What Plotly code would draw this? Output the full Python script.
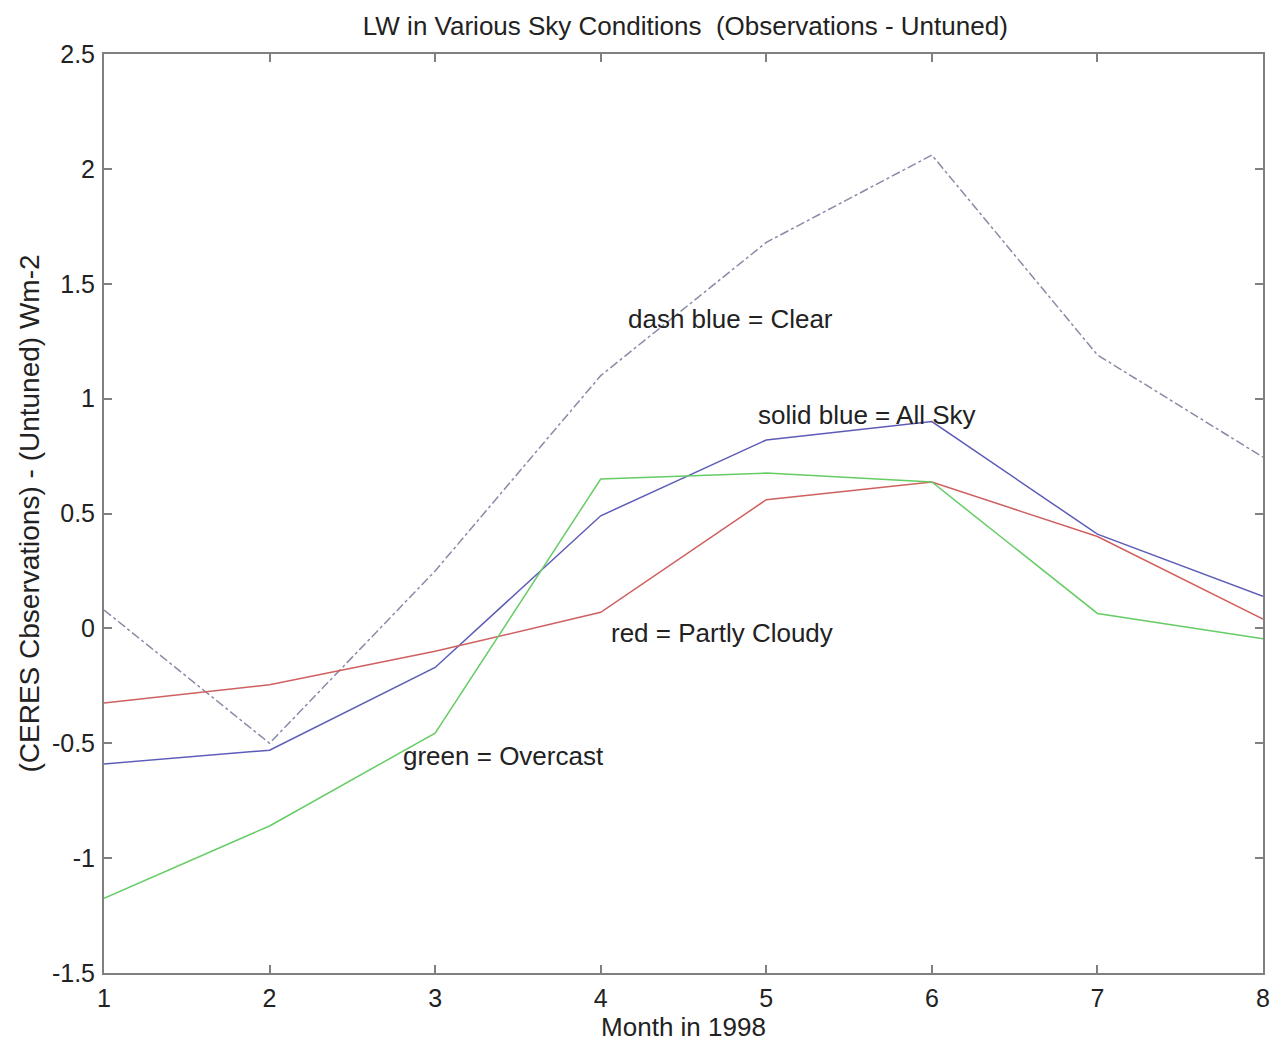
import plotly.graph_objects as go

months = [1, 2, 3, 4, 5, 6, 7, 8]
clear_sky = [0.08, -0.50, 0.25, 1.10, 1.68, 2.06, 1.19, 0.745]
all_sky = [-0.59, -0.53, -0.17, 0.49, 0.82, 0.90, 0.41, 0.14]
partly_cloudy = [-0.325, -0.245, -0.10, 0.07, 0.56, 0.637, 0.40, 0.04]
overcast = [-1.175, -0.86, -0.456, 0.65, 0.676, 0.637, 0.065, -0.045]

y_ticks = [-1.5, -1, -0.5, 0, 0.5, 1, 1.5, 2, 2.5]
y_tick_text = ["-1.5", "-1", "-0.5", "0", "0.5", "1", "1.5", "2", "2.5"]

labels = [
    ("dash blue = Clear", 4.15, 1.345),
    ("solid blue = All Sky", 4.94, 0.93),
    ("red = Partly Cloudy", 4.05, -0.022),
    ("green = Overcast", 2.795, -0.557),
]

fig = go.Figure()
fig.add_trace(go.Scatter(x=months, y=clear_sky, mode="lines",
                         line=dict(color="#8a8aa8", width=1.5, dash="dashdot")))
fig.add_trace(go.Scatter(x=months, y=all_sky, mode="lines",
                         line=dict(color="#5c5cb8", width=1.5)))
fig.add_trace(go.Scatter(x=months, y=partly_cloudy, mode="lines",
                         line=dict(color="#d06060", width=1.5)))
fig.add_trace(go.Scatter(x=months, y=overcast, mode="lines",
                         line=dict(color="#66cc66", width=1.5)))

for txt, xx, yy in labels:
    fig.add_annotation(x=xx, y=yy, text=txt, showarrow=False, xanchor="left",
                       yanchor="middle", font=dict(size=26, color="#222222"))

axis_common = dict(showline=True, linecolor="#808080", linewidth=2, mirror="ticks",
                   ticks="inside", ticklen=8, tickcolor="#808080", tickwidth=1.5,
                   showgrid=False, zeroline=False,
                   tickfont=dict(size=25, color="#222222"))

fig.update_layout(
    width=1281, height=1042,
    margin=dict(l=104, r=11, t=54, b=69),
    paper_bgcolor="white", plot_bgcolor="white",
    showlegend=False,
    font=dict(family="Liberation Sans, Arial, sans-serif", color="#222222"),
    title=dict(text="LW in Various Sky Conditions  (Observations - Untuned)",
               x=0.535, xanchor="center", y=0.975, yanchor="middle",
               font=dict(size=26)),
    xaxis=dict(range=[1, 8], tickvals=months, ticktext=[str(m) for m in months],
               ticklabelstandoff=2,
               title=dict(text="Month in 1998", font=dict(size=26), standoff=0),
               **axis_common),
    yaxis=dict(range=[-1.5, 2.5], tickvals=y_ticks, ticktext=y_tick_text,
               ticklabelstandoff=2,
               title=dict(text="(CERES Cbservations) - (Untuned) Wm-2", font=dict(size=28), standoff=4),
               **axis_common),
)

fig.write_html("out.html")
